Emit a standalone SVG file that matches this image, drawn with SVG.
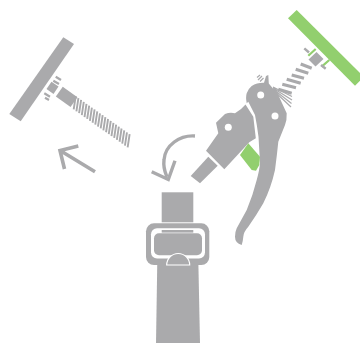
<svg xmlns="http://www.w3.org/2000/svg" width="360" height="343" viewBox="0 0 360 343">
<style>
.g{fill:#aaaaac}.gr{fill:#92cf6e}.w{fill:#fff}
.sg{fill:none;stroke:#aaaaac}.sgr{fill:none;stroke:#92cf6e}
</style>
<rect width="360" height="343" fill="#fff"/>
<g id="left-plate">
<polygon class="g" points="63.3,37.3 74,44 20.7,121.3 9.3,114"/>
<polygon class="g" points="51.5,81.7 58.5,86.5 53.5,94 46.5,89"/>
<path class="sg" stroke-width="2.2" d="M55.7,76.7L61,80M53.3,80.7L59,84M44.3,93.3L50,96.7M45,97.8L49,100"/>
<g transform="translate(36.3,75.7) rotate(35.2)">
<rect class="g" x="28" y="-6.2" width="18" height="12"/>
<path class="sg" stroke-width="1.9" d="M44,-6l6,12m-2.700,-12l6,12m-2.700,-12l6,12m-2.700,-12l6,12m-2.700,-12l6,12m-2.700,-12l6,12m-2.700,-12l6,12m-2.700,-12l6,12m-2.700,-12l6,12m-2.700,-12l6,12m-2.700,-12l6,12m-2.700,-12l6,12m-2.700,-12l6,12m-2.700,-12l6,12m-2.700,-12l6,12m-2.700,-12l6,12m-2.700,-12l6,12m-2.700,-12l6,12m-2.700,-12l6,12m-2.700,-12l6,12m-2.700,-12l6,12"/>
</g>
</g>
<g id="arrow-left">
<path class="sg" stroke-width="3.600" d="M95,171.700L60.500,150.800M78.300,146L60,150.500L64.500,169"/>
</g>
<g id="green-plate">
<polygon class="gr" points="296.700,10 288,18.300 355,85.700 364,77"/>
<path class="sgr" stroke-width="2.200" d="M315.700,49L308.300,55.700M329.300,60L321.700,66.700"/>
<polygon class="g" points="316.500,52 323.500,59 315.500,66.500 308.500,59.500"/>
<path class="sg" stroke-width="2.400" d="M304.300,48.300L309,52.500M321,65L325.700,68.800"/>
<path class="sg" stroke-width="3.200" d="M300.700,64L311.700,68.300M295.700,69.300L308.300,73.300M291.700,75L304,78.300M286.700,79.300L300.700,83.300M282.300,84.300L296,87.700M278.300,89.300L291.700,93.300"/>
<path class="sg" stroke-width="1.200" d="M273,87L292,96.500M273,88L292,100M273,89L291.500,103.500M273,90L291,107M258,80L262,76M260,81.500L263.500,78M257,77.500L260,75"/>
</g>
<g id="lever">
<path class="g" d="M266,76L268.300,75L268.800,83.500L278.300,95L286.700,113.300Q287,120 285,125L278.300,141.700Q277,155 275,170Q271,188 263.300,203.300Q256,216 248.300,226.700Q243.500,232 243.300,236.700Q243,241 241.700,245Q235,243 235,236.700Q235,232 236.700,228.300L246.700,210Q253,195 256.700,180Q259.500,170 260,163L258.500,136.700Q257,125 255,115L248.300,101.700L246.700,103.300Q245.500,97 246.700,93.300Q248,89 251.700,86Q257,82.500 264,82.700Z"/>
<circle class="w" cx="260.700" cy="95" r="3.500"/>
<circle class="w" cx="275" cy="116" r="3.500"/>
</g>
<g id="clamp">
<path class="g" d="M245.500,104.500L253.300,116.700L255.800,138.300L249.300,142.300L224.300,169.300L206,150.700L218.300,133.300L216,122.700L225,114Q230,112 235,113.300Q241,110 245.500,104.500Z"/>
<circle class="w" cx="228.300" cy="127.300" r="3.500"/>
<polygon class="g" points="208.300,156.700 190.700,176 200,183.300 217.700,165.700"/>
<polygon class="gr" points="248.300,143.300 240,155 251.700,170 256,170.700 259.300,165 260,156.700"/>
</g>
<g id="arrow-curved">
<path class="sg" stroke-width="3.400" d="M195,136C180,135 165,145 164,160C163,168 165,172 167,177"/>
<path class="sg" stroke-width="3.400" d="M151.700,171.700L168.300,179.500L175,160.700"/>
</g>
<g id="buckle">
<rect class="g" x="161.700" y="192.300" width="31.600" height="30"/>
<path class="g" d="M157.300,260L198.300,260L200,343L156,343Z"/>
<rect class="g" x="146" y="223.300" width="63.300" height="41.700" rx="8"/>
<rect class="w" x="151" y="228.300" width="54" height="30.200" rx="6"/>
<rect class="g" x="161.700" y="230" width="31.600" height="2.600"/>
<rect class="g" x="154" y="233.300" width="48" height="22" rx="5"/>
<path class="g" stroke="#fff" stroke-width="1.200" d="M166.700,265A11.500,11.500 0 0 1 189.700,265Z"/>
</g>
</svg>
